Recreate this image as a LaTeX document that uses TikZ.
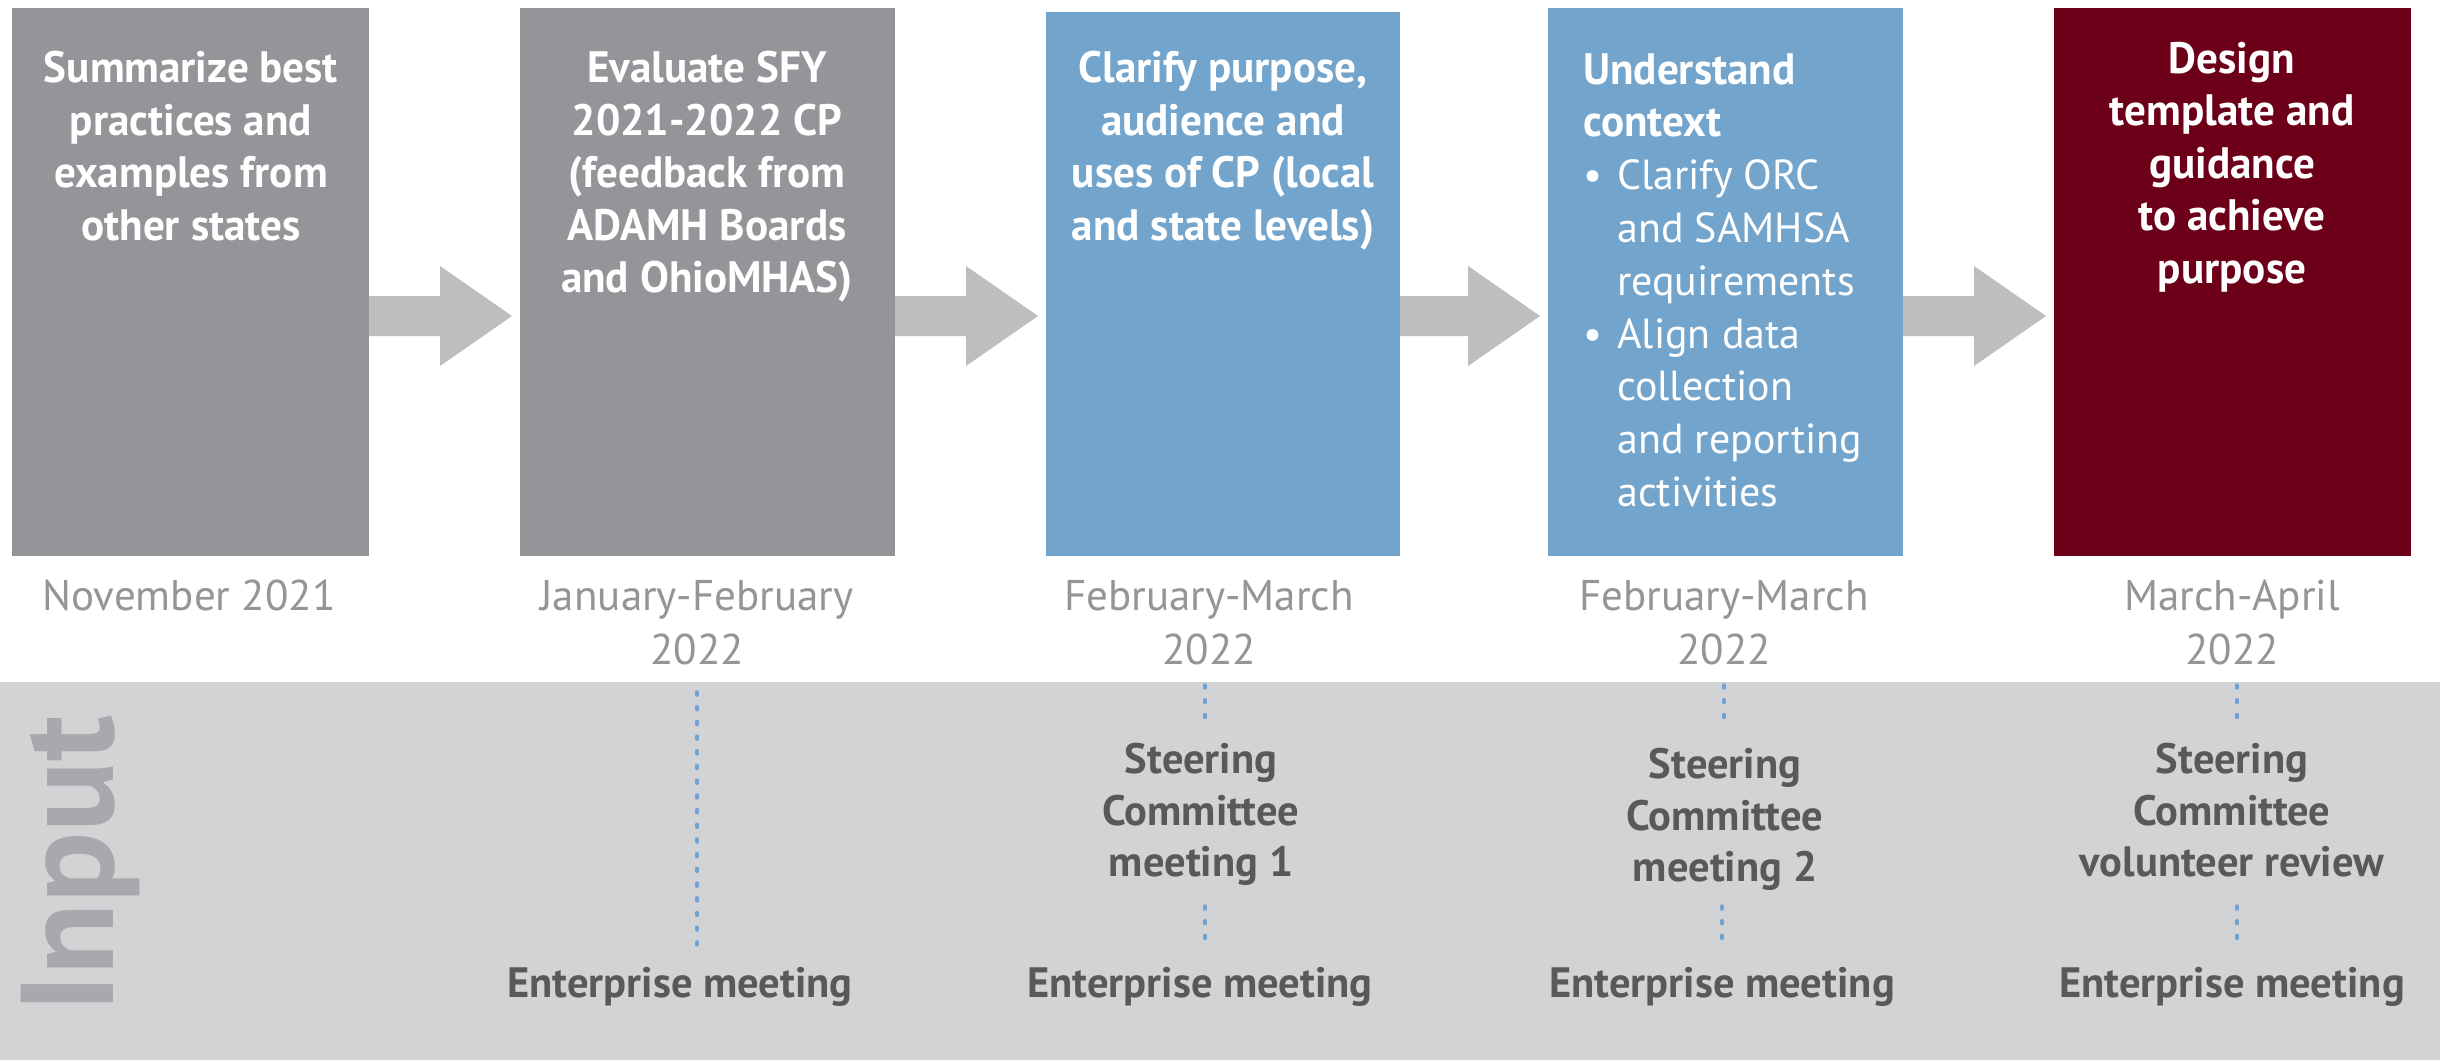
\documentclass[tikz,border=0pt]{standalone}
\usepackage{fontspec}
\setmainfont{PT Sans}
\newfontfamily\cf{PT Sans}[FakeStretch=0.98]
\usetikzlibrary{calc}
\definecolor{boxgray}{HTML}{939598}
\definecolor{boxblue}{HTML}{72A4CC}
\definecolor{boxred}{HTML}{6D0019}
\definecolor{arrowgray}{HTML}{BCBEC0}
\definecolor{bandgray}{HTML}{D1D3D4}
\definecolor{inputgray}{HTML}{A7A9AC}
\definecolor{dategray}{HTML}{939598}
\definecolor{darktext}{HTML}{58595B}
\definecolor{dotblue}{HTML}{6FA3D6}
\newcommand\flowarrow[2]{%
  \path (#1.east |- 0,316) coordinate (#1as);
  \path (#2.west |- 0,316) coordinate (#1ae);
  \fill[arrowgray] ($(#1as)+(0,-20)$) -- ($(#1ae)+(-80,-20)$) -- ($(#1ae)+(-80,-50)$)
     -- ($(#1ae)+(-8,0)$) -- ($(#1ae)+(-80,50)$) -- ($(#1ae)+(-80,20)$) -- ($(#1as)+(0,20)$) -- cycle;}
\begin{document}
\begin{tikzpicture}[x=1pt,y=-1pt,
  stepbox/.style={fill=#1, draw=none, minimum height=548pt, anchor=north west, inner sep=0pt, outer sep=0pt},
  boxtext/.style={text=white, font=\cf\bfseries\fontsize{44}{52.5}\selectfont, align=center, anchor=north, inner sep=0pt},
  datetext/.style={text=dategray, font=\fontsize{43}{54}\selectfont, align=center, anchor=north, inner sep=0pt},
  inputtext/.style={text=darktext, font=\bfseries\fontsize{42.5}{51.5}\selectfont, align=center, inner sep=0pt},
  dotline/.style={dotblue, line width=3.5pt, line cap=round, dash pattern=on 3pt off 11.7pt}
]
\useasboundingbox (0,0) rectangle (2440,1060);
\fill[white] (0,0) rectangle (2440,1060);
% band
\fill[bandgray] (0,682) rectangle (2440,1060);

% boxes
\node[stepbox=boxgray, minimum width=357pt] (b1) at (12,8) {};
\node[stepbox=boxgray, minimum width=375pt] (b2) at (520,8) {};
\node[stepbox=boxblue, minimum width=354pt, minimum height=544pt] (b3) at (1046,12) {};
\node[stepbox=boxblue, minimum width=355pt] (b4) at (1548,8) {};
\node[stepbox=boxred, minimum width=357pt] (b5) at (2054,8) {};

% arrows
\flowarrow{b1}{b2}
\flowarrow{b2}{b3}
\flowarrow{b3}{b4}
\flowarrow{b4}{b5}

% box texts
\node[boxtext] (t1) at (191,51) {Summarize best\\practices and\\examples from\\other states};
\node[boxtext] (t2) at (707,51) {Evaluate SFY\\2021-2022 CP\\(feedback from\\ADAMH Boards\\and OhioMHAS)};
\node[boxtext] (t3) at (1223,51) {Clarify purpose,\\audience and\\uses of CP (local\\and state levels)};
\node[boxtext, align=left, anchor=north west, font=\fontsize{42}{52.8}\selectfont] (t4) at (1583,53)
  {{\cf\bfseries\fontsize{44}{52.8}\selectfont Understand}\\{\cf\bfseries\fontsize{44}{52.8}\selectfont context}\\
   \makebox[34pt][l]{\textbullet}Clarify ORC\\\hspace*{34pt}and SAMHSA\\\hspace*{34pt}requirements\\
   \makebox[34pt][l]{\textbullet}Align data\\\hspace*{34pt}collection\\\hspace*{34pt}and reporting\\\hspace*{34pt}activities};
\node[boxtext] (t5) at (2232,42) {Design\\template and\\guidance\\to achieve\\purpose};

% dates
\node[datetext] (d1) at (189,580) {November 2021};
\node[datetext] (d2) at (697,580) {January-February\\2022};
\node[datetext] (d3) at (1209,580) {February-March\\2022};
\node[datetext] (d4) at (1724,580) {February-March\\2022};
\node[datetext] (d5) at (2232,580) {March-April\\2022};

% Input label
\node[text=inputgray, font=\bfseries\fontsize{132}{132}\selectfont, rotate=90, anchor=base, inner sep=0pt] (inp) at (113,864) {Input};

% steering
\node[inputtext, anchor=north] (s3) at (1201,743) {Steering\\Committee\\meeting 1};
\node[inputtext, anchor=north] (s4) at (1725,748) {Steering\\Committee\\meeting 2};
\node[inputtext, anchor=north] (s5) at (2232,743) {Steering\\Committee\\volunteer review};

% enterprise
\node[inputtext, anchor=base] (e2) at (680,997) {Enterprise meeting};
\node[inputtext, anchor=base] (e3) at (1200,997) {Enterprise meeting};
\node[inputtext, anchor=base] (e4) at (1722,997) {Enterprise meeting};
\node[inputtext, anchor=base] (e5) at (2232,997) {Enterprise meeting};

% dotted connectors
\coordinate (c2a) at (697,692); \coordinate (c2b) at (697,948);
\coordinate (c3a) at (1205,685); \coordinate (c3b) at (1205,728);
\coordinate (c3c) at (1205,906); \coordinate (c3d) at (1205,949);
\coordinate (c4a) at (1724,685); \coordinate (c4b) at (1724,728);
\coordinate (c4c) at (1722,906); \coordinate (c4d) at (1722,949);
\coordinate (c5a) at (2237,685); \coordinate (c5b) at (2237,728);
\coordinate (c5c) at (2237,906); \coordinate (c5d) at (2237,949);
\draw[dotline] (c2a) -- (c2b);
\draw[dotline] (c3a) -- (c3b);
\draw[dotline] (c3c) -- (c3d);
\draw[dotline] (c4a) -- (c4b);
\draw[dotline] (c4c) -- (c4d);
\draw[dotline] (c5a) -- (c5b);
\draw[dotline] (c5c) -- (c5d);
\end{tikzpicture}
\end{document}
